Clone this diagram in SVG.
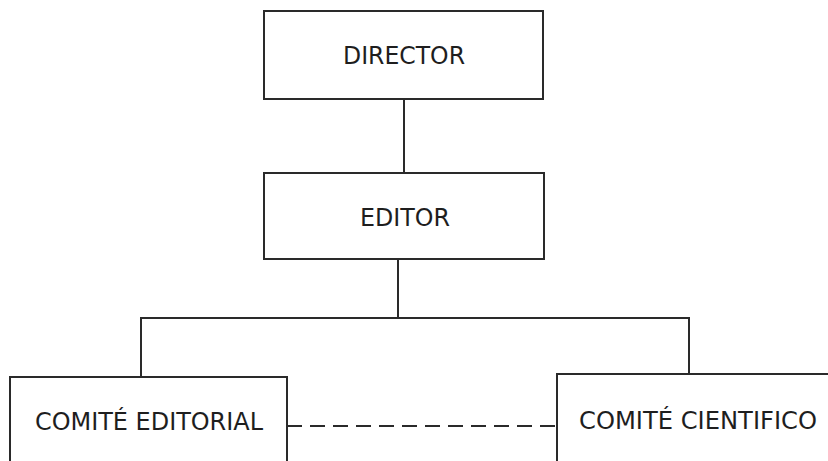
<svg xmlns="http://www.w3.org/2000/svg" width="828" height="461" viewBox="0 0 828 461">
<style>
.box{fill:#fff;stroke:#2a2a2a;stroke-width:2}
.lbl{font-family:"DejaVu Sans Condensed","DejaVu Sans",sans-serif;font-size:24px;fill:#1e1e1e;text-anchor:middle}
.ln{fill:none;stroke:#2a2a2a;stroke-width:2}
</style>
<rect width="828" height="461" fill="#fff"/>
<g id="connectors">
<line class="ln" x1="404" y1="99" x2="404" y2="173"/>
<polyline class="ln" points="141,377 141,318 689,318 689,373"/>
<line class="ln" x1="398" y1="259" x2="398" y2="318"/>
<line class="ln" x1="287" y1="426" x2="557" y2="426" stroke-dasharray="15 8"/>
</g>
<g id="director">
<rect class="box" x="264" y="11" width="279" height="88"/>
<text class="lbl" x="404" y="64" textLength="122" lengthAdjust="spacingAndGlyphs">DIRECTOR</text>
</g>
<g id="editor">
<rect class="box" x="264" y="173" width="280" height="86"/>
<text class="lbl" x="405" y="226" textLength="90" lengthAdjust="spacingAndGlyphs">EDITOR</text>
</g>
<g id="comite-editorial">
<rect class="box" x="10" y="377" width="277" height="100"/>
<text class="lbl" x="149" y="430" textLength="228" lengthAdjust="spacingAndGlyphs">COMITÉ EDITORIAL</text>
</g>
<g id="comite-cientifico">
<rect class="box" x="557" y="374" width="290" height="100"/>
<text class="lbl" x="698" y="429" textLength="238" lengthAdjust="spacingAndGlyphs">COMITÉ CIENTIFICO</text>
</g>
</svg>
